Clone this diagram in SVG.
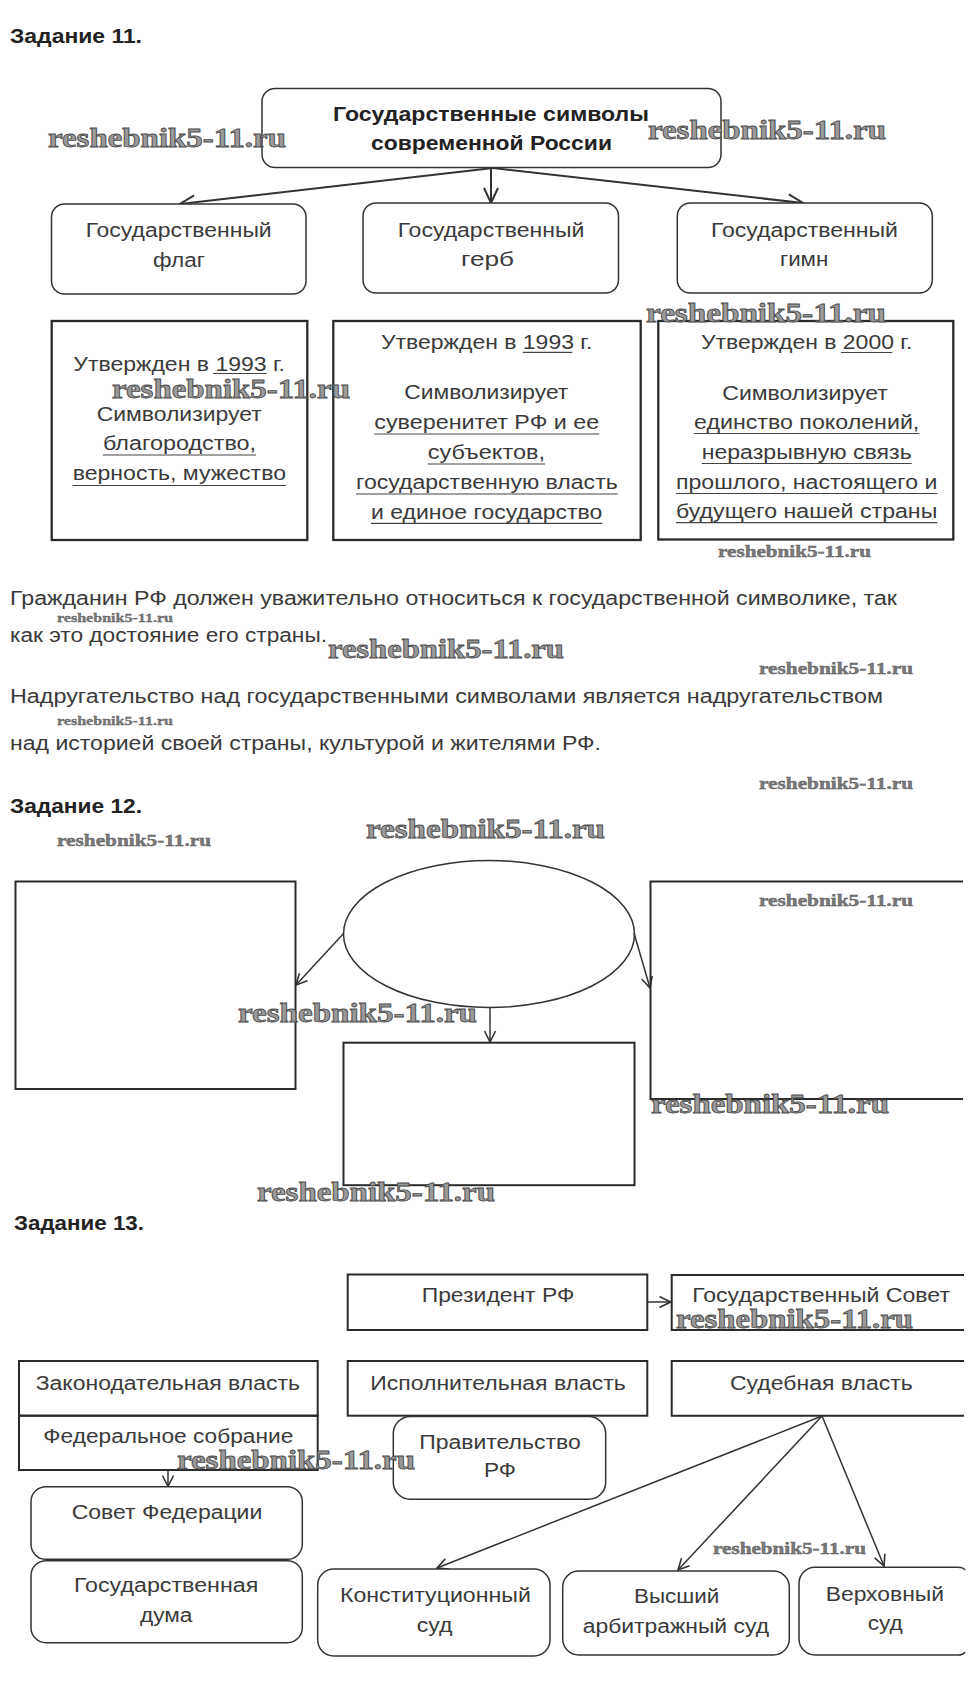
<svg xmlns="http://www.w3.org/2000/svg" width="971" height="1704" viewBox="0 0 971 1704">
<defs>
<style>
.t{font-family:"Liberation Sans",Arial,sans-serif;font-size:20px;fill:#3a3a3a}
.p{font-size:19.5px}
.b{font-weight:bold;fill:#222}
.h{font-family:"Liberation Sans",Arial,sans-serif;font-size:20px;font-weight:bold;fill:#222}
.rb{fill:#fff;stroke:#333;stroke-width:1.5}
.tb{fill:none;stroke:#2a2a2a;stroke-width:2.3}
.sq{fill:none;stroke:#2a2a2a;stroke-width:2}
.ul{stroke:#444;stroke-width:1.2}
.c{fill:none;stroke:#333;stroke-width:2}
.c2{fill:none;stroke:#333;stroke-width:1.5}
.wm{font-family:"Liberation Serif","Times New Roman",serif;font-weight:bold;font-size:27px;fill:#9a9a9a;stroke:#4a4a4a;stroke-width:0.8}
.ws{font-size:17px;fill:#7a7a7a;stroke:#555;stroke-width:0.4}
.wx{font-size:13px;fill:#7a7a7a;stroke:#555;stroke-width:0.3}
</style>
<marker id="m16" viewBox="0 0 17 16" refX="16" refY="8" markerWidth="17" markerHeight="16" markerUnits="userSpaceOnUse" orient="auto">
<path d="M1,1 L16,8 L1,15" fill="none" stroke="#333" stroke-width="2"/>
</marker>
<marker id="m12" viewBox="0 0 13 13" refX="12" refY="6.5" markerWidth="13" markerHeight="13" markerUnits="userSpaceOnUse" orient="auto">
<path d="M1,1 L12,6.5 L1,12" fill="none" stroke="#333" stroke-width="1.6"/>
</marker>
</defs>
<rect width="971" height="1704" fill="#fff"/>

<g id="headings">
<text class="h" x="10" y="43" textLength="132" lengthAdjust="spacingAndGlyphs">Задание 11.</text>
<text class="h" x="10" y="813" textLength="132" lengthAdjust="spacingAndGlyphs">Задание 12.</text>
<text class="h" x="14" y="1230" textLength="130" lengthAdjust="spacingAndGlyphs">Задание 13.</text>
</g>

<!-- Task 11 -->
<g id="connectors-11">
<line class="c" x1="493" y1="168" x2="180" y2="204" marker-end="url(#m16)"/>
<line class="c" x1="491" y1="168" x2="491" y2="203" marker-end="url(#m16)"/>
<line class="c" x1="493" y1="168" x2="803" y2="203" marker-end="url(#m16)"/>
</g>

<g id="n-title">
<rect class="rb" x="262" y="88.5" width="459" height="79" rx="13"/>
<text class="t b" x="333" y="121" font-size="20.5" textLength="316" lengthAdjust="spacingAndGlyphs">Государственные символы</text>
<text class="t b" x="371" y="150" font-size="20.5" textLength="241" lengthAdjust="spacingAndGlyphs">современной России</text>
</g>

<g id="n-flag">
<rect class="rb" x="51.5" y="204" width="254.5" height="90" rx="13"/>
<text class="t" x="85.7" y="237" font-size="21" textLength="186" lengthAdjust="spacingAndGlyphs">Государственный</text>
<text class="t" x="153" y="266.5" font-size="21" textLength="52" lengthAdjust="spacingAndGlyphs">флаг</text>
</g>
<g id="n-gerb">
<rect class="rb" x="363" y="203" width="255.5" height="90" rx="13"/>
<text class="t" x="397.7" y="236.5" font-size="21" textLength="186.6" lengthAdjust="spacingAndGlyphs">Государственный</text>
<text class="t" x="461" y="265.5" font-size="21" textLength="53" lengthAdjust="spacingAndGlyphs">герб</text>
</g>
<g id="n-gimn">
<rect class="rb" x="677.3" y="203" width="255" height="90" rx="13"/>
<text class="t" x="711" y="236.5" font-size="21" textLength="187" lengthAdjust="spacingAndGlyphs">Государственный</text>
<text class="t" x="780" y="266" font-size="21" textLength="48.3" lengthAdjust="spacingAndGlyphs">гимн</text>
</g>

<g id="n-flag-info">
<rect class="tb" x="51.7" y="321" width="255.6" height="219"/>
<text class="t" x="73.3" y="370.5" textLength="211.7" lengthAdjust="spacingAndGlyphs">Утвержден в 1993 г.</text>
<line class="ul" x1="213" y1="373.5" x2="266.7" y2="373.5"/>
<text class="t" x="96.7" y="421" textLength="165" lengthAdjust="spacingAndGlyphs">Символизирует</text>
<text class="t" x="103" y="450" textLength="153" lengthAdjust="spacingAndGlyphs">благородство,</text>
<line class="ul" x1="103" y1="455" x2="256" y2="455"/>
<text class="t" x="72.7" y="480" textLength="213.3" lengthAdjust="spacingAndGlyphs">верность, мужество</text>
<line class="ul" x1="72.7" y1="485.5" x2="286" y2="485.5"/>
</g>

<g id="n-gerb-info">
<rect class="tb" x="333.3" y="321" width="307.4" height="219"/>
<text class="t" x="381" y="349" textLength="211.3" lengthAdjust="spacingAndGlyphs">Утвержден в 1993 г.</text>
<line class="ul" x1="522.7" y1="352.3" x2="572.3" y2="352.3"/>
<text class="t" x="404.3" y="399" textLength="164" lengthAdjust="spacingAndGlyphs">Символизирует</text>
<text class="t" x="374.3" y="429" textLength="225" lengthAdjust="spacingAndGlyphs">суверенитет РФ и ее</text>
<line class="ul" x1="374.3" y1="434" x2="599.3" y2="434"/>
<text class="t" x="427.7" y="459" textLength="117.3" lengthAdjust="spacingAndGlyphs">субъектов,</text>
<line class="ul" x1="427.7" y1="464" x2="545" y2="464"/>
<text class="t" x="356" y="489" textLength="261.7" lengthAdjust="spacingAndGlyphs">государственную власть</text>
<line class="ul" x1="356" y1="494" x2="617.7" y2="494"/>
<text class="t" x="371" y="518.5" textLength="231.3" lengthAdjust="spacingAndGlyphs">и единое государство</text>
<line class="ul" x1="371" y1="523.3" x2="602.3" y2="523.3"/>
</g>

<g id="n-gimn-info">
<rect class="tb" x="658.3" y="321" width="295" height="218.5"/>
<text class="t" x="701" y="349.3" textLength="211.3" lengthAdjust="spacingAndGlyphs">Утвержден в 2000 г.</text>
<line class="ul" x1="841" y1="352.5" x2="892.3" y2="352.5"/>
<text class="t" x="722.3" y="399.5" textLength="165.4" lengthAdjust="spacingAndGlyphs">Символизирует</text>
<text class="t" x="694" y="429" textLength="225.3" lengthAdjust="spacingAndGlyphs">единство поколений,</text>
<line class="ul" x1="694" y1="433.5" x2="919.3" y2="433.5"/>
<text class="t" x="701.7" y="459" textLength="210" lengthAdjust="spacingAndGlyphs">неразрывную связь</text>
<line class="ul" x1="701.7" y1="463.5" x2="911.7" y2="463.5"/>
<text class="t" x="676" y="489" textLength="261.3" lengthAdjust="spacingAndGlyphs">прошлого, настоящего и</text>
<line class="ul" x1="676" y1="493.5" x2="937.3" y2="493.5"/>
<text class="t" x="676" y="518.3" textLength="261.3" lengthAdjust="spacingAndGlyphs">будущего нашей страны</text>
<line class="ul" x1="676" y1="522.7" x2="937.3" y2="522.7"/>
</g>

<g id="paragraph">
<text class="t p" x="10" y="605" textLength="887" lengthAdjust="spacingAndGlyphs">Гражданин РФ должен уважительно относиться к государственной символике, так</text>
<text class="t p" x="10" y="642" textLength="317" lengthAdjust="spacingAndGlyphs">как это достояние его страны.</text>
<text class="t p" x="10" y="703" textLength="873" lengthAdjust="spacingAndGlyphs">Надругательство над государственными символами является надругательством</text>
<text class="t p" x="10" y="750" textLength="591" lengthAdjust="spacingAndGlyphs">над историей своей страны, культурой и жителями РФ.</text>
</g>

<!-- Task 12 -->
<g id="connectors-12">
<line class="c2" x1="344" y1="933" x2="296" y2="985" marker-end="url(#m12)"/>
<line class="c2" x1="634" y1="933" x2="650" y2="988" marker-end="url(#m12)"/>
<line class="c2" x1="490" y1="1007.5" x2="490" y2="1042" marker-end="url(#m12)"/>
</g>
<g id="n12-center"><ellipse cx="489" cy="934" rx="145.5" ry="73.5" fill="none" stroke="#333" stroke-width="1.5"/></g>
<g id="n12-left"><rect class="sq" x="15.5" y="881.5" width="280" height="207.5"/></g>
<g id="n12-bottom"><rect class="sq" x="343.5" y="1042.7" width="291" height="142.5"/></g>
<g id="n12-right"><path class="sq" d="M963,881.5 H650.5 V1099 H963"/></g>

<!-- Task 13 -->
<g id="connectors-13">
<line class="c2" x1="647.3" y1="1302" x2="670.5" y2="1302" marker-end="url(#m12)"/>
<line class="c2" x1="168" y1="1470" x2="168" y2="1486.5" marker-end="url(#m12)"/>
<line class="c2" x1="822" y1="1416" x2="437" y2="1568" marker-end="url(#m12)"/>
<line class="c2" x1="822" y1="1416" x2="678" y2="1570" marker-end="url(#m12)"/>
<line class="c2" x1="822" y1="1416" x2="884" y2="1566" marker-end="url(#m12)"/>
</g>
<g id="n-president">
<rect class="sq" x="347.7" y="1274.5" width="299.6" height="55.5"/>
<text class="t" x="421.7" y="1302" textLength="152.7" lengthAdjust="spacingAndGlyphs">Президент РФ</text>
</g>
<g id="n-gossovet">
<path class="sq" d="M964,1275 H671.7 V1330 H964"/>
<text class="t" x="692.3" y="1302" textLength="257.7" lengthAdjust="spacingAndGlyphs">Государственный Совет</text>
</g>
<g id="n-legis">
<rect class="sq" x="19" y="1361" width="298.7" height="54.7"/>
<text class="t" x="35.7" y="1389.5" textLength="264.3" lengthAdjust="spacingAndGlyphs">Законодательная власть</text>
</g>
<g id="n-fedsobr">
<rect class="sq" x="19" y="1415.7" width="298.7" height="54.3"/>
<text class="t" x="43.3" y="1443" textLength="250" lengthAdjust="spacingAndGlyphs">Федеральное собрание</text>
</g>
<g id="n-exec">
<rect class="sq" x="347.7" y="1361" width="299.6" height="54.7"/>
<text class="t" x="370.3" y="1389.5" textLength="255.5" lengthAdjust="spacingAndGlyphs">Исполнительная власть</text>
</g>
<g id="n-jud">
<path class="sq" d="M964,1361 H671.7 V1415.7 H964"/>
<text class="t" x="730" y="1389.5" textLength="182.7" lengthAdjust="spacingAndGlyphs">Судебная власть</text>
</g>
<g id="n-govt">
<rect class="rb" x="393.3" y="1416.5" width="212.4" height="82.8" rx="17"/>
<text class="t" x="419.3" y="1449" textLength="161.4" lengthAdjust="spacingAndGlyphs">Правительство</text>
<text class="t" x="484" y="1476.5" textLength="32" lengthAdjust="spacingAndGlyphs">РФ</text>
</g>
<g id="n-sovfed">
<rect class="rb" x="31" y="1486.7" width="271.3" height="72.6" rx="15"/>
<text class="t" x="71.7" y="1519" textLength="190.6" lengthAdjust="spacingAndGlyphs">Совет Федерации</text>
</g>
<g id="n-duma">
<rect class="rb" x="31" y="1560.7" width="271.3" height="82" rx="15"/>
<text class="t" x="74" y="1592" textLength="184.3" lengthAdjust="spacingAndGlyphs">Государственная</text>
<text class="t" x="140" y="1622" textLength="52.3" lengthAdjust="spacingAndGlyphs">дума</text>
</g>
<g id="n-konst">
<rect class="rb" x="317.7" y="1569" width="232.3" height="87" rx="16"/>
<text class="t" x="340" y="1602" textLength="190.8" lengthAdjust="spacingAndGlyphs">Конституционный</text>
<text class="t" x="416.7" y="1631.7" textLength="35.6" lengthAdjust="spacingAndGlyphs">суд</text>
</g>
<g id="n-arb">
<rect class="rb" x="562.7" y="1571" width="226.6" height="84" rx="16"/>
<text class="t" x="634" y="1603.3" textLength="85.3" lengthAdjust="spacingAndGlyphs">Высший</text>
<text class="t" x="582.7" y="1632.7" textLength="186.3" lengthAdjust="spacingAndGlyphs">арбитражный суд</text>
</g>
<g id="n-verh">
<path class="rb" d="M958,1567.3 H815 A16,16 0 0 0 799,1583.3 V1639 A16,16 0 0 0 815,1655 H958"/>
<path d="M958,1567.3 Q963,1567.3 965,1570 M958,1655 Q963,1655 965,1652" fill="none" stroke="#333" stroke-width="1.5"/>
<text class="t" x="825.7" y="1600.5" textLength="118.3" lengthAdjust="spacingAndGlyphs">Верховный</text>
<text class="t" x="867.7" y="1630" textLength="35" lengthAdjust="spacingAndGlyphs">суд</text>
</g>

<g id="watermarks">
<text class="wm" x="48" y="147" textLength="238" lengthAdjust="spacingAndGlyphs">reshebnik5-11.ru</text>
<text class="wm" x="648" y="139" textLength="238" lengthAdjust="spacingAndGlyphs">reshebnik5-11.ru</text>
<text class="wm" x="646" y="322" textLength="240" lengthAdjust="spacingAndGlyphs">reshebnik5-11.ru</text>
<text class="wm" x="112" y="398" textLength="238" lengthAdjust="spacingAndGlyphs">reshebnik5-11.ru</text>
<text class="wm ws" x="718" y="557" textLength="153" lengthAdjust="spacingAndGlyphs">reshebnik5-11.ru</text>
<text class="wm wx" x="57" y="622" textLength="116" lengthAdjust="spacingAndGlyphs">reshebnik5-11.ru</text>
<text class="wm" x="328" y="658" textLength="236" lengthAdjust="spacingAndGlyphs">reshebnik5-11.ru</text>
<text class="wm ws" x="759" y="674" textLength="154" lengthAdjust="spacingAndGlyphs">reshebnik5-11.ru</text>
<text class="wm wx" x="57" y="725" textLength="116" lengthAdjust="spacingAndGlyphs">reshebnik5-11.ru</text>
<text class="wm ws" x="759" y="789" textLength="154" lengthAdjust="spacingAndGlyphs">reshebnik5-11.ru</text>
<text class="wm ws" x="57" y="846" textLength="154" lengthAdjust="spacingAndGlyphs">reshebnik5-11.ru</text>
<text class="wm" x="366" y="838" textLength="239" lengthAdjust="spacingAndGlyphs">reshebnik5-11.ru</text>
<text class="wm ws" x="759" y="906" textLength="154" lengthAdjust="spacingAndGlyphs">reshebnik5-11.ru</text>
<text class="wm" x="238" y="1022" textLength="239" lengthAdjust="spacingAndGlyphs">reshebnik5-11.ru</text>
<text class="wm" x="651" y="1113" textLength="238" lengthAdjust="spacingAndGlyphs">reshebnik5-11.ru</text>
<text class="wm" x="257" y="1201" textLength="238" lengthAdjust="spacingAndGlyphs">reshebnik5-11.ru</text>
<text class="wm" x="676" y="1328" textLength="237" lengthAdjust="spacingAndGlyphs">reshebnik5-11.ru</text>
<text class="wm" x="177" y="1469" textLength="238" lengthAdjust="spacingAndGlyphs">reshebnik5-11.ru</text>
<text class="wm ws" x="713" y="1554" textLength="153" lengthAdjust="spacingAndGlyphs">reshebnik5-11.ru</text>
</g>
</svg>
